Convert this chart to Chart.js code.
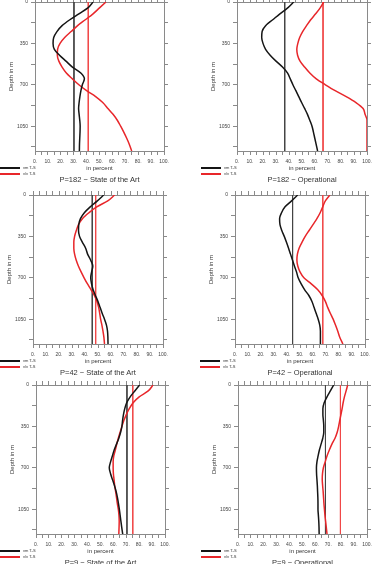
<!DOCTYPE html>
<html><head><meta charset="utf-8">
<script src="https://cdn.jsdelivr.net/npm/chart.js@4.4.0/dist/chart.umd.min.js"></script>
<style>
html,body{margin:0;padding:0;background:#fff;width:375px;height:564px;overflow:hidden;position:relative;font-family:"Liberation Sans",Arial,sans-serif;}
canvas.pc{position:absolute;}
.title{position:absolute;font-size:7.5px;color:#333;white-space:nowrap;transform:translate(-50%,-50%);}
.leg{position:absolute;font-size:4px;line-height:4px;color:#333;white-space:nowrap;transform:translateY(-50%);}
.leg .ln{display:inline-block;width:20px;height:1.5px;vertical-align:middle;margin-right:3px;}
</style></head><body>
<script>
// ---- data ----
const depths = [0,50,100,150,200,250,300,350,400,450,500,550,600,650,700,750,800,850,900,950,1000,1050,1100,1150,1200,1260];
const xTickValues = [0,5,10,15,20,25,30,35,40,45,50,55,60,65,70,75,80,85,90,95,100];
const yTickValues = [0,175,350,525,700,875,1050,1225];
const legendLabels = ["vm T-S", "v/v T-S"];
const panelTitles = ["P=182 \u2212 State of the Art","P=182 \u2212 Operational","P=42 \u2212 State of the Art","P=42 \u2212 Operational","P=9 \u2212 State of the Art","P=9 \u2212 Operational"];

const p182SotaVm = [45,41,34,27,21,17,14.5,14,15,19,24,29,35.5,38.3,36.7,35.6,34.8,34.2,33.8,34.2,34.7,35,34.9,34.7,34.5,34.4];
const p182SotaVv = [55,50,45,39,33,28,23,19.4,17.5,17.3,18.5,21,24.3,29,34,40,47,52.5,56.5,60.5,63.8,66.4,68.8,71,73,75];
const p182OperVm = [43.6,39,33,27.5,22,19.3,19,20,22,25.5,30,35,38.8,41,43,45.3,47.5,49.7,52,54.2,56,57.7,58.8,59.8,60.8,62];
const p182OperVv = [66.7,64,60.5,56.7,53.5,50.5,48.2,46.8,46,46.6,48.5,52,56,61,68,75.5,84,91.5,97,98.5,100,100,100,100,100,100];
const p42SotaVm = [54.4,49.5,44,39.5,36.5,35.2,35,35.8,38,40.5,42,44.3,46,45.1,44.4,45,46.2,48,50,51.6,53.2,55,56.5,57.3,57.6,57.7];
const p42SotaVv = [62.8,57.5,49,43,38,35,33.3,32,31.4,31.4,32,33.2,34.9,37,39.3,41.8,44.6,47.2,49.2,50.5,51.3,52,53,53.8,54.5,55];
const p42OperVm = [48.2,43.5,38.5,35.8,34.3,34.6,36,37.9,39.6,41.2,42.7,44.2,45.7,47.3,48.6,50.8,53.5,56.8,59.2,60.8,62.4,64,65.2,65.7,65.7,65.7];
const p42OperVv = [73,69.5,67.5,65.5,63,60,57,54,51.5,49.3,48,47.6,48.3,50,53,58.5,63.5,67,69.5,71.3,73.3,75.5,77.3,79,80.5,83];
const p9SotaVm = [80.3,76.6,73,70.3,68.8,67.8,67.1,66.6,65.6,64.2,62.4,60.6,59.2,57.8,56.8,57.8,59.3,60.8,62.1,63.1,63.9,64.6,65.2,65.8,66.4,67.2];
const p9SotaVv = [90.7,87,80,75.3,72.3,70,68.1,66.6,65.2,63.8,62.6,61.5,60.3,59.8,59.8,60,60.5,61,61.7,62.4,63,63.8,64.3,64.5,64.4,64.2];
const p9OperVm = [74.2,71.6,69,66.8,65.8,65.8,66.2,66.5,66.5,65.7,64.4,63.1,62.1,61.2,60.8,60.9,61.2,61.5,61.7,61.9,62,62,62.3,62.6,62.8,62.9];
const p9OperVv = [85,83.8,82.5,81.5,80.7,79.8,78.9,78,76.9,75.2,72.8,70.8,69,67.6,66.2,65.5,65.3,65.6,66,66.3,66.6,67,67.4,67.9,68.4,69];
// means (vertical reference lines): [vm, v/v]
const p182SotaMean = [30.2, 41.3];
const p182OperMean = [36.7, 66.2];
const p42SotaMean = [45.6, 48.2];
const p42OperMean = [44.3, 67.5];
const p9SotaMean = [70.5, 75];
const p9OperMean = [67.8, 79.4];
const depthMax = 1260;

// ---- layout ----
const panels = [
  {L:35, T:2, W:129, H:149, vm:p182SotaVm, vv:p182SotaVv, mean:p182SotaMean, legX:0},
  {L:237,T:2, W:130, H:149, vm:p182OperVm, vv:p182OperVv, mean:p182OperMean, legX:201},
  {L:33, T:195,W:130,H:149, vm:p42SotaVm, vv:p42SotaVv, mean:p42SotaMean, legX:0},
  {L:235,T:195,W:130,H:149, vm:p42OperVm, vv:p42OperVv, mean:p42OperMean, legX:200},
  {L:36, T:385,W:129,H:149, vm:p9SotaVm, vv:p9SotaVv, mean:p9SotaMean, legX:0},
  {L:238,T:385,W:129,H:149, vm:p9OperVm, vv:p9OperVv, mean:p9OperMean, legX:201}
];
const AX_L=30, AX_T=6, AX_R=6, AX_B=22;
const BLACK='#151515', RED='#e8262a', BOX='#8a8a8a';
const FONT='"Liberation Sans", Arial, sans-serif';

function fixSize(prop, val){
  return function(s){ s[prop]=val; s.paddingLeft=0; s.paddingRight=0; s.paddingTop=0; s.paddingBottom=0; };
}
function setTicks(vals){ return function(s){ s.ticks = vals.map(v=>({value:v})); }; }

panels.forEach((p, i) => {
  const c = document.createElement('canvas');
  c.className='pc';
  const cw = p.W+AX_L+AX_R, ch = p.H+AX_T+AX_B;
  c.width=cw; c.height=ch;
  c.style.left=(p.L-AX_L)+'px'; c.style.top=(p.T-AX_T)+'px';
  c.style.width=cw+'px'; c.style.height=ch+'px';
  document.body.appendChild(c);

  const gridOpt = {display:true, drawOnChartArea:false, drawTicks:true, tickLength:4, color:BOX, lineWidth:1};
  const borderOpt = {display:true, color:BOX, width:1};
  new Chart(c, {
    type:'line',
    data:{datasets:[
      {label:legendLabels[0], data:depths.map((d,k)=>({x:p.vm[k], y:d})), borderColor:BLACK, borderWidth:1.5, pointRadius:0, cubicInterpolationMode:'monotone'},
      {label:legendLabels[1], data:depths.map((d,k)=>({x:p.vv[k], y:d})), borderColor:RED, borderWidth:1.5, pointRadius:0, cubicInterpolationMode:'monotone'},
      {label:'vm mean', data:[{x:p.mean[0], y:0},{x:p.mean[0], y:depthMax}], borderColor:'#444', borderWidth:1, pointRadius:0},
      {label:'v/v mean', data:[{x:p.mean[1], y:0},{x:p.mean[1], y:depthMax}], borderColor:'#f04848', borderWidth:1, pointRadius:0}
    ]},
    options:{
      indexAxis:'y', responsive:false, animation:false, devicePixelRatio:1,
      layout:{padding:0},
      plugins:{legend:{display:false}, tooltip:{enabled:false}, title:{display:false}},
      scales:{
        x:{type:'linear', position:'bottom', min:0, max:100,
           afterBuildTicks:setTicks(xTickValues), afterFit:fixSize('height',AX_B),
           grid:gridOpt, border:borderOpt,
           ticks:{autoSkip:false, maxRotation:0, padding:3.5, color:'#444', font:{family:FONT, size:5},
                  callback:(v)=> (v%10===0 ? v+'.' : '')},
           title:{display:true, text:'in percent', color:'#333', font:{family:FONT, size:6}, padding:{top:0,bottom:1.4}}},
        x2:{type:'linear', position:'top', min:0, max:100,
           afterBuildTicks:setTicks(xTickValues), afterFit:fixSize('height',AX_T),
           grid:gridOpt, border:borderOpt, ticks:{display:false}},
        y:{type:'linear', position:'left', min:0, max:depthMax, reverse:true,
           afterBuildTicks:setTicks(yTickValues), afterFit:fixSize('width',AX_L),
           grid:gridOpt, border:borderOpt,
           ticks:{autoSkip:false, padding:3, color:'#444', font:{family:FONT, size:5},
                  callback:(v)=> (v%350===0 ? String(v) : '')},
           title:{display:true, text:'Depth in m', color:'#333', font:{family:FONT, size:6}, padding:{top:3,bottom:0}}},
        y2:{type:'linear', position:'right', min:0, max:depthMax, reverse:true,
           afterBuildTicks:setTicks(yTickValues), afterFit:fixSize('width',AX_R),
           grid:gridOpt, border:borderOpt, ticks:{display:false}}
      }
    }
  });

  const bottom = p.T + p.H;
  // legend
  [[BLACK,legendLabels[0],17],[RED,legendLabels[1],23]].forEach(([col,txt,dy])=>{
    const d=document.createElement('div'); d.className='leg';
    d.style.left=p.legX+'px'; d.style.top=(bottom+dy)+'px';
    d.innerHTML='<span class="ln" style="background:'+col+'"></span>'+txt;
    document.body.appendChild(d);
  });
  // title
  const t=document.createElement('div'); t.className='title';
  t.style.left=(p.L+p.W/2)+'px'; t.style.top=(bottom+28)+'px';
  t.textContent=panelTitles[i];
  document.body.appendChild(t);
});
</script>
</body></html>
